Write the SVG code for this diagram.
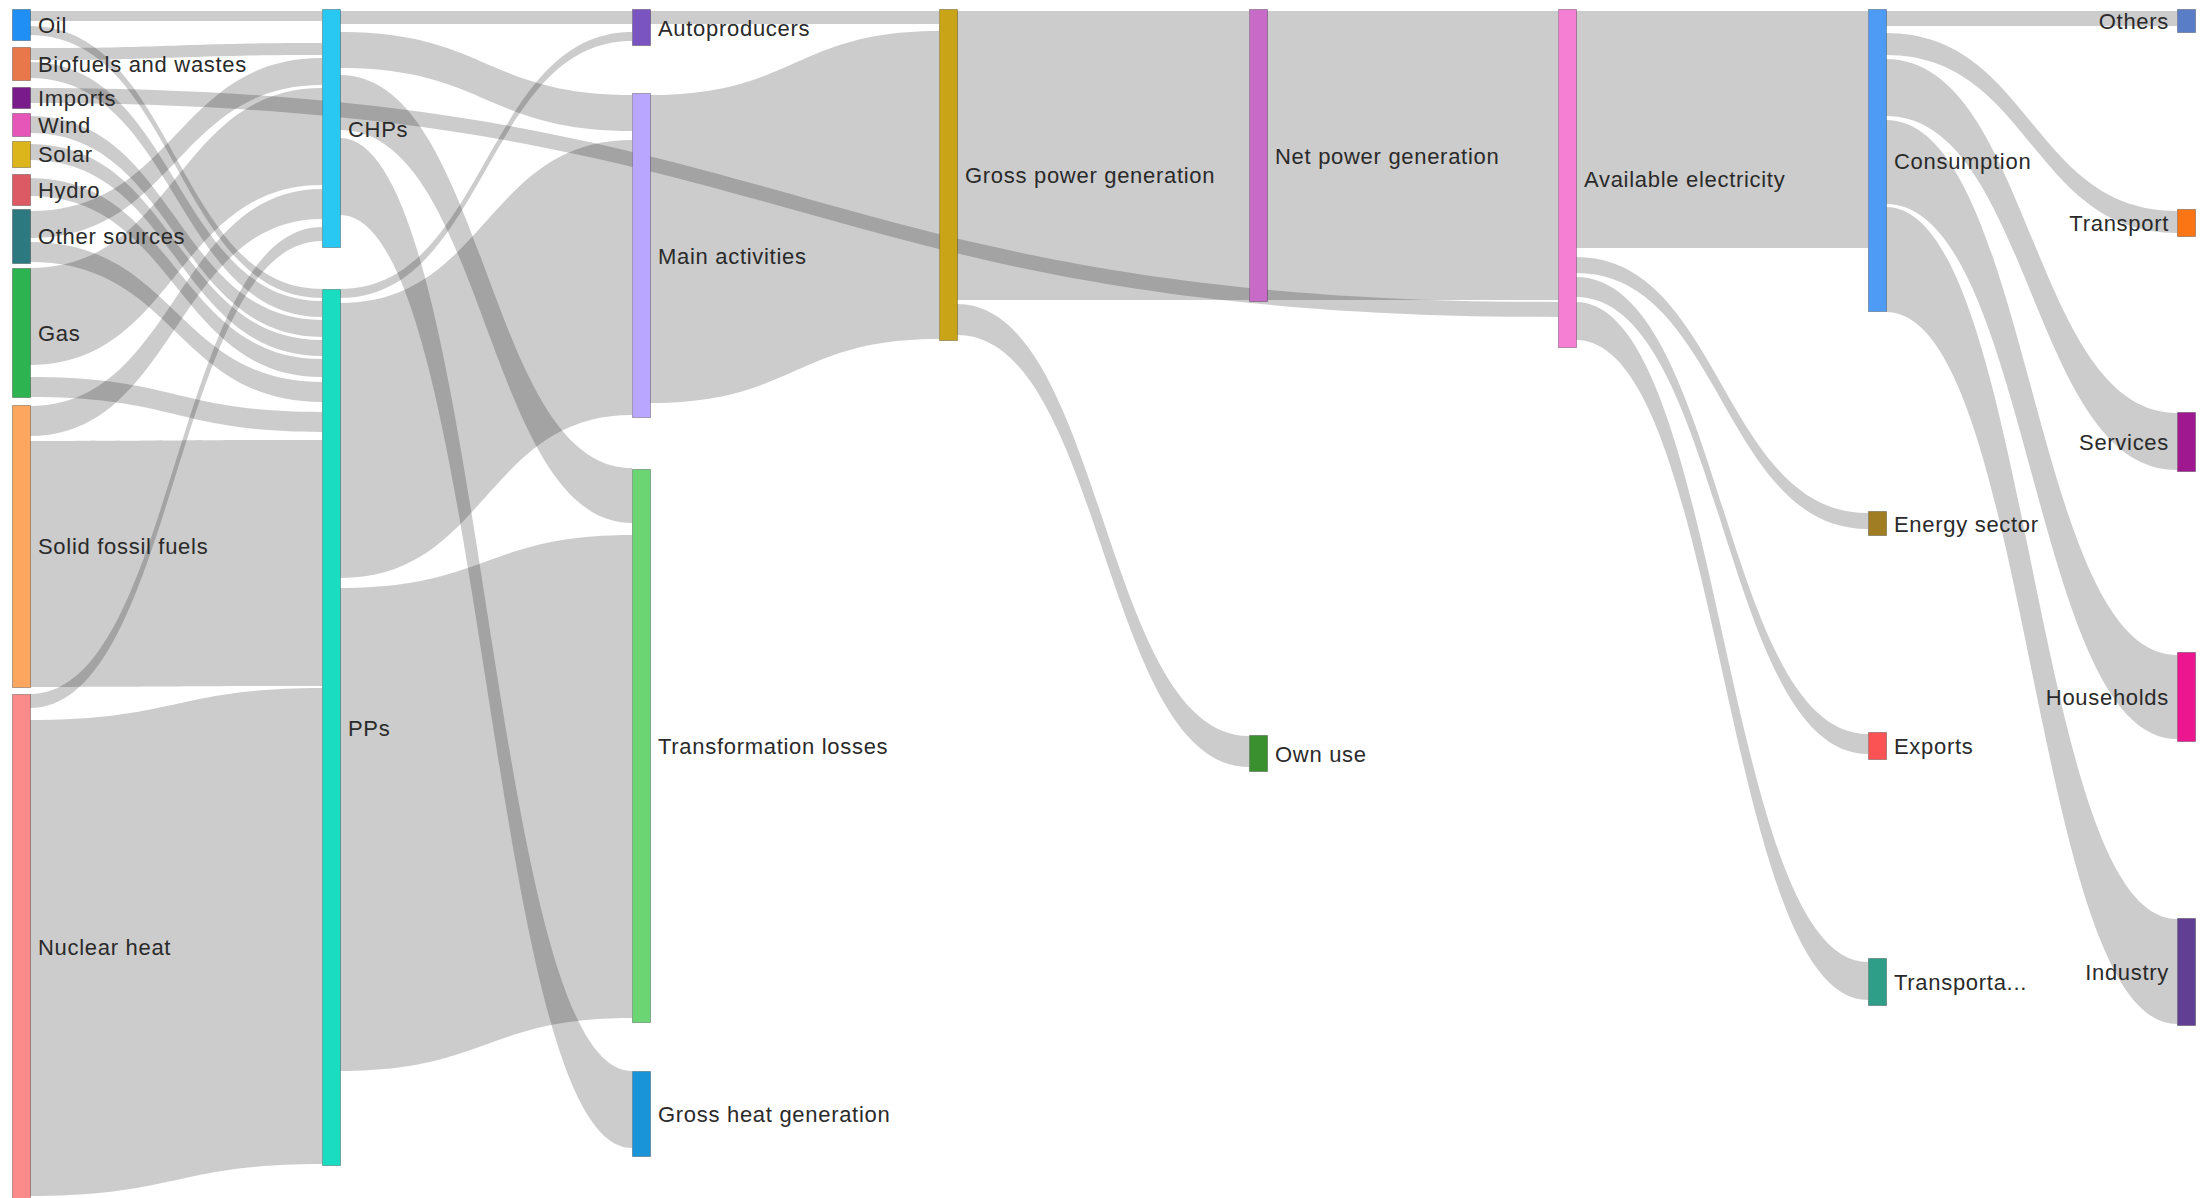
<svg xmlns="http://www.w3.org/2000/svg" width="2208" height="1198" viewBox="0 0 2208 1198">
<style>
.l{fill:#000;fill-opacity:0.2}
.n{stroke:#000;stroke-opacity:0.28;stroke-width:1}
.t{font-family:"Liberation Sans",Arial,sans-serif;font-size:22px;letter-spacing:0.7px;fill:#2a2a2a}
.e{text-anchor:end}
</style>
<rect width="2208" height="1198" fill="#fff"/>
<g id="links">
<path class="l" d="M30 11 C176 11 176 11 322 11 L322 21 C176 21 176 21 30 21Z"/>
<path class="l" d="M30 26 C176 26 176 289 322 289 L322 298 C176 298 176 35 30 35Z"/>
<path class="l" d="M30 48 C176 48 176 43 322 43 L322 55 C176 55 176 60 30 60Z"/>
<path class="l" d="M30 62 C176 62 176 301 322 301 L322 317 C176 317 176 78 30 78Z"/>
<path class="l" d="M30 116 C176 116 176 320 322 320 L322 337 C176 337 176 133 30 133Z"/>
<path class="l" d="M30 144 C176 144 176 340 322 340 L322 356 C176 356 176 160 30 160Z"/>
<path class="l" d="M30 178 C176 178 176 359 322 359 L322 377 C176 377 176 196 30 196Z"/>
<path class="l" d="M30 211 C176 211 176 58 322 58 L322 85 C176 85 176 238 30 238Z"/>
<path class="l" d="M30 242 C176 242 176 382 322 382 L322 402 C176 402 176 262 30 262Z"/>
<path class="l" d="M30 268 C176 268 176 88 322 88 L322 185 C176 185 176 365 30 365Z"/>
<path class="l" d="M30 377 C176 377 176 412 322 412 L322 432 C176 432 176 397 30 397Z"/>
<path class="l" d="M30 406 C176 406 176 189 322 189 L322 219 C176 219 176 436 30 436Z"/>
<path class="l" d="M30 441 C176 441 176 440 322 440 L322 686 C176 686 176 687 30 687Z"/>
<path class="l" d="M30 694 C176 694 176 227 322 227 L322 241 C176 241 176 708 30 708Z"/>
<path class="l" d="M30 720 C176 720 176 688 322 688 L322 1164 C176 1164 176 1196 30 1196Z"/>
<path class="l" d="M340 11 C486 11 486 11 632 11 L632 24 C486 24 486 24 340 24Z"/>
<path class="l" d="M340 32 C486 32 486 95 632 95 L632 131 C486 131 486 68 340 68Z"/>
<path class="l" d="M340 75 C486 75 486 468 632 468 L632 523 C486 523 486 130 340 130Z"/>
<path class="l" d="M340 138 C486 138 486 1071 632 1071 L632 1148 C486 1148 486 215 340 215Z"/>
<path class="l" d="M340 289 C486 289 486 32 632 32 L632 41 C486 41 486 298 340 298Z"/>
<path class="l" d="M340 303 C486 303 486 140 632 140 L632 415 C486 415 486 578 340 578Z"/>
<path class="l" d="M340 588 C486 588 486 535 632 535 L632 1018 C486 1018 486 1071 340 1071Z"/>
<path class="l" d="M650 11 C795 11 795 11 939 11 L939 24 C795 24 795 24 650 24Z"/>
<path class="l" d="M650 95 C795 95 795 31 939 31 L939 339 C795 339 795 403 650 403Z"/>
<path class="l" d="M30 88 C794 88 794 302 1558 302 L1558 317 C794 317 794 103 30 103Z"/>
<path class="l" d="M957 11 C1103 11 1103 11 1249 11 L1249 300 C1103 300 1103 300 957 300Z"/>
<path class="l" d="M957 304 C1103 304 1103 736 1249 736 L1249 767 C1103 767 1103 335 957 335Z"/>
<path class="l" d="M1267 11 C1412 11 1412 11 1558 11 L1558 300 C1412 300 1412 300 1267 300Z"/>
<path class="l" d="M1576 11 C1722 11 1722 11 1868 11 L1868 248 C1722 248 1722 248 1576 248Z"/>
<path class="l" d="M1576 257 C1722 257 1722 513 1868 513 L1868 529 C1722 529 1722 273 1576 273Z"/>
<path class="l" d="M1576 277 C1722 277 1722 734 1868 734 L1868 754 C1722 754 1722 297 1576 297Z"/>
<path class="l" d="M1576 302 C1722 302 1722 962 1868 962 L1868 1000 C1722 1000 1722 340 1576 340Z"/>
<path class="l" d="M1886 11 C2031 11 2031 11 2177 11 L2177 26 C2031 26 2031 26 1886 26Z"/>
<path class="l" d="M1886 33 C2031 33 2031 211 2177 211 L2177 233 C2031 233 2031 55 1886 55Z"/>
<path class="l" d="M1886 59 C2031 59 2031 413 2177 413 L2177 470 C2031 470 2031 116 1886 116Z"/>
<path class="l" d="M1886 120 C2031 120 2031 655 2177 655 L2177 739 C2031 739 2031 204 1886 204Z"/>
<path class="l" d="M1886 207 C2031 207 2031 919 2177 919 L2177 1024 C2031 1024 2031 312 1886 312Z"/>
</g>
<g id="n-oil"><rect class="n" x="12.5" y="9.5" width="18" height="31" fill="#1f8ff5"/><text class="t" x="38" y="33">Oil</text></g>
<g id="n-biofuels"><rect class="n" x="12.5" y="47.5" width="18" height="33" fill="#e8784a"/><text class="t" x="38" y="72">Biofuels and wastes</text></g>
<g id="n-imports"><rect class="n" x="12.5" y="87.5" width="18" height="21" fill="#7a1b8c"/><text class="t" x="38" y="106">Imports</text></g>
<g id="n-wind"><rect class="n" x="12.5" y="113.5" width="18" height="23" fill="#e655b8"/><text class="t" x="38" y="133">Wind</text></g>
<g id="n-solar"><rect class="n" x="12.5" y="141.5" width="18" height="26" fill="#dcb41c"/><text class="t" x="38" y="162">Solar</text></g>
<g id="n-hydro"><rect class="n" x="12.5" y="174.5" width="18" height="31" fill="#dc5a64"/><text class="t" x="38" y="198">Hydro</text></g>
<g id="n-other"><rect class="n" x="12.5" y="209.5" width="18" height="54" fill="#2c7a80"/><text class="t" x="38" y="244">Other sources</text></g>
<g id="n-gas"><rect class="n" x="12.5" y="268.5" width="18" height="129" fill="#2db34f"/><text class="t" x="38" y="341">Gas</text></g>
<g id="n-solid"><rect class="n" x="12.5" y="405.5" width="18" height="282" fill="#fca65f"/><text class="t" x="38" y="554">Solid fossil fuels</text></g>
<g id="n-nuclear"><rect class="n" x="12.5" y="694.5" width="18" height="510" fill="#fb8a8a"/><text class="t" x="38" y="955">Nuclear heat</text></g>
<g id="n-chps"><rect class="n" x="322.5" y="9.5" width="18" height="238" fill="#29c8f2"/><text class="t" x="348" y="136.5">CHPs</text></g>
<g id="n-pps"><rect class="n" x="322.5" y="289.5" width="18" height="876" fill="#1adcc0"/><text class="t" x="348" y="735.5">PPs</text></g>
<g id="n-auto"><rect class="n" x="632.5" y="9.5" width="18" height="36" fill="#7a55c2"/><text class="t" x="658" y="35.5">Autoproducers</text></g>
<g id="n-main"><rect class="n" x="632.5" y="93.5" width="18" height="324" fill="#b9a6ff"/><text class="t" x="658" y="263.5">Main activities</text></g>
<g id="n-tl"><rect class="n" x="632.5" y="469.5" width="18" height="553" fill="#6bd574"/><text class="t" x="658" y="754">Transformation losses</text></g>
<g id="n-gh"><rect class="n" x="632.5" y="1071.5" width="18" height="85" fill="#1a94d8"/><text class="t" x="658" y="1122">Gross heat generation</text></g>
<g id="n-gross"><rect class="n" x="939.5" y="9.5" width="18" height="331" fill="#c9a417"/><text class="t" x="965" y="183">Gross power generation</text></g>
<g id="n-net"><rect class="n" x="1249.5" y="9.5" width="18" height="292" fill="#c86bc8"/><text class="t" x="1275" y="163.5">Net power generation</text></g>
<g id="n-own"><rect class="n" x="1249.5" y="735.5" width="18" height="36" fill="#3a8f2e"/><text class="t" x="1275" y="761.5">Own use</text></g>
<g id="n-avail"><rect class="n" x="1558.5" y="9.5" width="18" height="338" fill="#f57fd2"/><text class="t" x="1584" y="186.5">Available electricity</text></g>
<g id="n-cons"><rect class="n" x="1868.5" y="9.5" width="18" height="302" fill="#4e9bf5"/><text class="t" x="1894" y="168.5">Consumption</text></g>
<g id="n-energy"><rect class="n" x="1868.5" y="511.5" width="18" height="24" fill="#a07c22"/><text class="t" x="1894" y="531.5">Energy sector</text></g>
<g id="n-exports"><rect class="n" x="1868.5" y="732.5" width="18" height="27" fill="#fb5353"/><text class="t" x="1894" y="754">Exports</text></g>
<g id="n-transp"><rect class="n" x="1868.5" y="958.5" width="18" height="47" fill="#2f9e88"/><text class="t" x="1894" y="990">Transporta...</text></g>
<g id="n-others"><rect class="n" x="2177.5" y="9.5" width="18" height="23" fill="#5a7dc8"/><text class="t e" x="2169" y="29">Others</text></g>
<g id="n-transport"><rect class="n" x="2177.5" y="209.5" width="18" height="27" fill="#fb7514"/><text class="t e" x="2169" y="231">Transport</text></g>
<g id="n-services"><rect class="n" x="2177.5" y="412.5" width="18" height="59" fill="#a0188f"/><text class="t e" x="2169" y="450">Services</text></g>
<g id="n-households"><rect class="n" x="2177.5" y="652.5" width="18" height="89" fill="#ec168f"/><text class="t e" x="2169" y="705">Households</text></g>
<g id="n-industry"><rect class="n" x="2177.5" y="918.5" width="18" height="107" fill="#613f93"/><text class="t e" x="2169" y="980">Industry</text></g>
</svg>
